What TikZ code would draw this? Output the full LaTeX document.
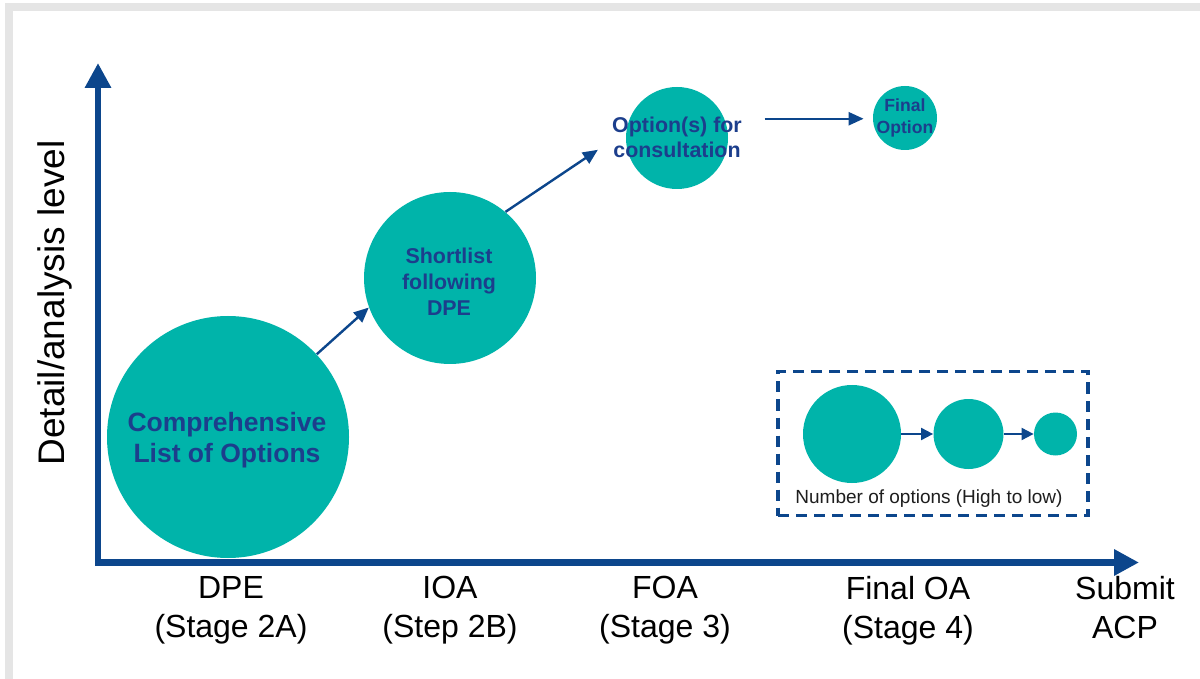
\documentclass[tikz,border=0pt]{standalone}
\usepackage{fontspec}
\setmainfont{Liberation Sans}
\usetikzlibrary{arrows.meta}
\definecolor{axisblue}{RGB}{12,70,140}
\definecolor{bubbleteal}{RGB}{0,180,170}
\definecolor{labelblue}{RGB}{28,62,140}
\definecolor{framegray}{RGB}{229,229,229}
\definecolor{keytext}{RGB}{30,30,30}
\begin{document}
\begin{tikzpicture}[x=0.5pt,y=-0.5pt,
  bubble/.style={circle, fill=bubbleteal, draw=none, inner sep=0pt},
  bubtext/.style={text=labelblue, align=center, inner sep=0pt},
  axisline/.style={draw=axisblue, line width=3.3pt, line join=miter,
    arrows={Triangle[length=12.5pt,width=12.5pt]-Triangle[length=12.5pt,width=12.5pt]}},
  link/.style={draw=axisblue, line width=1.2pt, -{Triangle[length=7.5pt,width=6.5pt]}},
  keylink/.style={draw=axisblue, line width=1pt, -{Triangle[length=6pt,width=6pt]}},
  stagelabel/.style={font=\fontsize{16}{19.5}\selectfont, align=center, inner sep=0pt, anchor=north},
]
\useasboundingbox (0,0) rectangle (1200,679);
% page frame
\fill[framegray] (5,3) rectangle (1200,679);
\fill[white] (13,11) rectangle (1200,679);

% stage bubbles
\node[bubble, minimum size=121pt] (c1) at (228,437) {};
\node[bubble, minimum size=86pt] (c2) at (450,278) {};
\node[bubble, minimum size=51pt] (c3) at (677,138) {};
\node[bubble, minimum size=32pt] (c4) at (905,118) {};

\node[bubtext, font=\bfseries\fontsize{13.25}{15.8}\selectfont] (t1) at (227,440) {Comprehensive\\List of Options};
\node[bubtext, font=\bfseries\fontsize{10.7}{13}\selectfont] (t2) at (449,282) {Shortlist\\following\\DPE};
\node[bubtext, font=\bfseries\fontsize{10.7}{12.5}\selectfont] (t3) at (677,137) {Option(s) for\\consultation};
\node[bubtext, font=\bfseries\fontsize{8.8}{11}\selectfont] (t4) at (905,118) {Final\\Option};

% progression arrows
\draw[link] (c1.43) -- (c2.200);
\draw[link, shorten >=17pt] (c2.50) -- (c3.172);
\draw[link, shorten <=20pt, shorten >=4.5pt] (c3.22) -- (c3.22 -| c4.west);

% axes
\coordinate (ytop) at (98,63);
\coordinate (origin) at (98,562.5);
\coordinate (xend) at (1139,562.5);
\draw[axisline] (ytop) -- (origin) -- (xend);

\node[rotate=90, font=\fontsize{18.5}{22}\selectfont, inner sep=0pt] (ylabel) at (55,303) {Detail/analysis level};

\node[stagelabel] (s1) at (231,576) {DPE\\(Stage 2A)};
\node[stagelabel] (s2) at (450,576) {IOA\\(Step 2B)};
\node[stagelabel] (s3) at (665,576) {FOA\\(Stage 3)};
\node[stagelabel] (s4) at (908,576) {Final OA\\(Stage 4)};
\node[stagelabel] (s5) at (1125,576) {Submit\\ACP};

% key
\node[draw=axisblue, line width=1.75pt, dash pattern=on 5.5pt off 3.5pt,
      minimum width=155pt, minimum height=72pt, inner sep=0pt] (key) at (933,443.5) {};
\node[bubble, minimum size=49pt] (k1) at (852,434) {};
\node[bubble, minimum size=35pt] (k2) at (968.5,434) {};
\node[bubble, minimum size=21.5pt] (k3) at (1055.5,434) {};
\draw[keylink] (k1) -- (k2);
\draw[keylink] (k2) -- (k3);
\node[text=keytext, font=\fontsize{9.5}{11}\selectfont, inner sep=0pt] (keytxt) at (929,499) {Number of options (High to low)};
\end{tikzpicture}
\end{document}
